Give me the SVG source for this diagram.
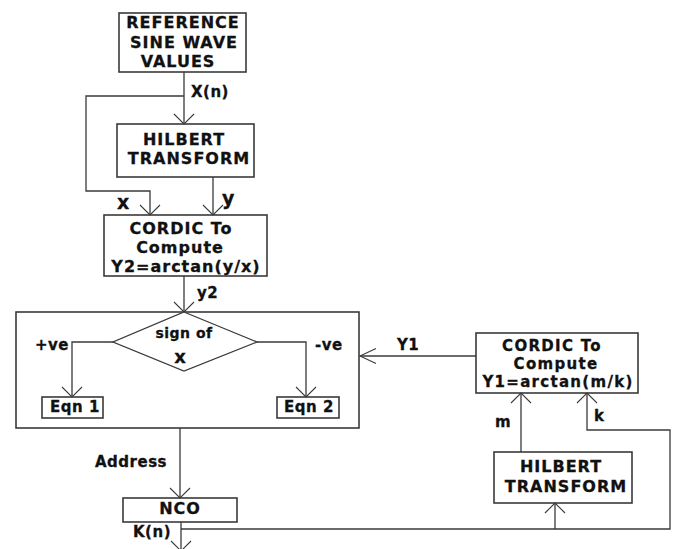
<svg xmlns="http://www.w3.org/2000/svg" width="675" height="549" viewBox="0 0 675 549">
<style>
.box{fill:#fff;stroke:#3a3a3a;stroke-width:1.6}
.frame{fill:none;stroke:#3a3a3a;stroke-width:1.6}
.ln{fill:none;stroke:#3a3a3a;stroke-width:1.3}
text{font-family:"DejaVu Sans","Verdana",sans-serif;font-weight:bold;fill:#111;stroke:#111;stroke-width:0.3}
.t{font-size:16px;letter-spacing:1px;text-anchor:middle}
.l{font-size:15px;letter-spacing:0.5px}
</style>
<defs>
<marker id="a" markerUnits="userSpaceOnUse" markerWidth="24" markerHeight="24" viewBox="-12 -12 24 24" refX="0" refY="0" orient="auto" overflow="visible">
<path d="M-10,-10 L0,0 L-10,10" fill="none" stroke="#3a3a3a" stroke-width="1.1"/>
</marker>
<marker id="b" markerUnits="userSpaceOnUse" markerWidth="24" markerHeight="24" viewBox="-18 -12 24 24" refX="0" refY="0" orient="auto" overflow="visible">
<path d="M-16,-7.5 L0,0 L-16,7.5" fill="none" stroke="#3a3a3a" stroke-width="1.1"/>
</marker>
</defs>
<g id="ref">
<rect class="box" x="119" y="13" width="127" height="59"/>
<text class="t" x="183" y="28">REFERENCE</text>
<text class="t" x="184" y="48">SINE WAVE</text>
<text class="t" x="178" y="67">VALUES</text>
</g>
<g id="hilbert1">
<rect class="box" x="117" y="124" width="137" height="53"/>
<text class="t" x="184" y="145">HILBERT</text>
<text class="t" x="189" y="164">TRANSFORM</text>
</g>
<g id="cordic1">
<rect class="box" x="104" y="215" width="163" height="61"/>
<text class="t" x="181" y="234">CORDIC To</text>
<text class="t" x="180" y="253">Compute</text>
<text class="t" x="186" y="272">Y2=arctan(y/x)</text>
</g>
<g id="decision">
<rect class="frame" x="16" y="312" width="343" height="116"/>
<path class="box" d="M184,312 L257,342 L184,371 L113,342 Z" style="stroke-width:1.3"/>
<text x="184" y="338" style="font-size:14px;text-anchor:middle;letter-spacing:0.5px">sign of</text>
<text x="180" y="363" style="font-size:18px;text-anchor:middle">x</text>
</g>
<g id="eqn1">
<rect class="box" x="42" y="397" width="61" height="21"/>
<text class="l" x="75" y="412" style="text-anchor:middle">Eqn 1</text>
</g>
<g id="eqn2">
<rect class="box" x="277" y="397" width="62" height="21"/>
<text class="l" x="309" y="412" style="text-anchor:middle">Eqn 2</text>
</g>
<g id="cordic2">
<rect class="box" x="476" y="333" width="162" height="60"/>
<text class="t" x="552" y="351" style="font-size:15px;letter-spacing:1.3px">CORDIC To</text>
<text class="t" x="556" y="369" style="font-size:15px;letter-spacing:1.3px">Compute</text>
<text class="t" x="558" y="387" style="font-size:15px;letter-spacing:1.3px">Y1=arctan(m/k)</text>
</g>
<g id="hilbert2">
<rect class="box" x="494" y="452" width="138" height="51"/>
<text class="t" x="561" y="472">HILBERT</text>
<text class="t" x="566" y="492">TRANSFORM</text>
</g>
<g id="nco">
<rect class="box" x="123" y="498" width="114" height="24"/>
<text class="t" x="180" y="514">NCO</text>
</g>
<g id="connectors">
<path class="ln" d="M184,72 V124" marker-end="url(#a)"/>
<path class="ln" d="M184,96 H86 V191 H150 V215" marker-end="url(#a)"/>
<path class="ln" d="M213,177 V215" marker-end="url(#a)"/>
<path class="ln" d="M184,276 V312" marker-end="url(#a)"/>
<path class="ln" d="M113,342 H72 V397" marker-end="url(#a)"/>
<path class="ln" d="M257,342 H306 V397" marker-end="url(#a)"/>
<path class="ln" d="M476,356 H360" marker-end="url(#b)"/>
<path class="ln" d="M180,428 V498" marker-end="url(#a)"/>
<path class="ln" d="M181,522 V551" marker-end="url(#a)"/>
<path class="ln" d="M181,529 H670 V430 H587 V393" marker-end="url(#a)"/>
<path class="ln" d="M521,452 V393" marker-end="url(#a)"/>
<path class="ln" d="M555,529 V503" marker-end="url(#a)"/>
<text class="l" x="191" y="97">X(n)</text>
<text x="117" y="209" style="font-size:19px">x</text>
<text x="222" y="205" style="font-size:19px">y</text>
<text class="l" x="197" y="298">y2</text>
<text class="l" x="35" y="350">+ve</text>
<text class="l" x="315" y="350">-ve</text>
<text class="l" x="397" y="350">Y1</text>
<text class="l" x="495" y="427">m</text>
<text class="l" x="594" y="421">k</text>
<text class="l" x="95" y="467">Address</text>
<text class="l" x="133" y="537">K(n)</text>
</g>
</svg>
